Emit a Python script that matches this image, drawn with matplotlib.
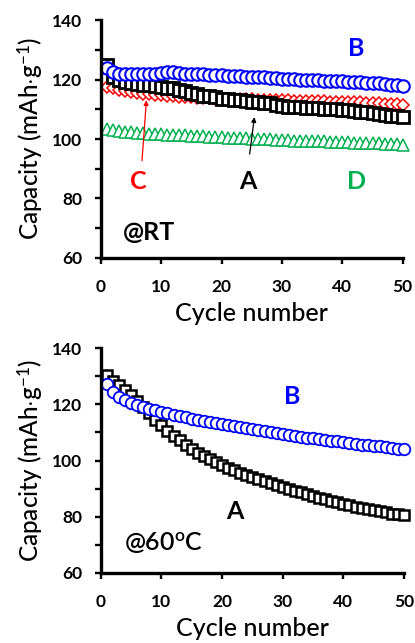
import numpy as np
import matplotlib
matplotlib.use('Agg')
import matplotlib.pyplot as plt

plt.rcParams['font.family'] = ['Lato', 'DejaVu Sans']
plt.rcParams['mathtext.fontset'] = 'custom'
plt.rcParams['mathtext.rm'] = 'Lato:medium'
plt.rcParams['mathtext.it'] = 'Lato:italic'
plt.rcParams['mathtext.bf'] = 'Lato:bold'

## the data
cycles = np.arange(1, 51)

# room temperature
rt_a = [125.0, 121.0, 119.8, 119.2, 118.8, 118.5, 118.3, 118.0, 117.8, 117.5,
        117.3, 117.0, 116.5, 116.0, 115.5, 115.0, 114.6, 114.3, 114.0, 113.6,
        113.4, 113.2, 113.0, 112.8, 112.6, 112.4, 112.2, 112.0, 111.6, 111.2,
        110.9, 110.7, 110.6, 110.5, 110.4, 110.3, 110.2, 110.1, 110.0, 109.8,
        109.6, 109.4, 109.2, 109.0, 108.7, 108.4, 108.1, 107.8, 107.6, 107.5]
rt_b = [124.0, 122.6, 122.0, 121.8, 121.7, 121.7, 121.7, 121.8, 122.0, 122.2,
        122.5, 122.4, 122.2, 122.0, 121.9, 121.8, 121.7, 121.6, 121.5, 121.4,
        121.3, 121.2, 121.1, 121.0, 120.9, 120.8, 120.7, 120.6, 120.5, 120.3,
        120.2, 120.1, 120.0, 119.9, 119.8, 119.7, 119.6, 119.6, 119.5, 119.4,
        119.3, 119.2, 119.1, 119.0, 118.9, 118.7, 118.5, 118.3, 118.0, 117.8]
rt_c = [117.5, 117.0, 116.6, 116.2, 115.9, 115.6, 115.3, 115.1, 114.9, 114.7,
        114.5, 114.3, 114.2, 114.1, 114.0, 113.9, 113.8, 113.7, 113.6, 113.5,
        113.5, 113.4, 113.4, 113.3, 113.3, 113.2, 113.2, 113.1, 113.1, 113.0,
        113.0, 112.9, 112.9, 112.8, 112.8, 112.7, 112.7, 112.6, 112.6, 112.5,
        112.4, 112.4, 112.3, 112.2, 112.1, 112.0, 111.9, 111.8, 111.7, 111.5]
rt_d = [103.3, 102.9, 102.7, 102.5, 102.3, 102.1, 102.0, 101.8, 101.7, 101.6,
        101.5, 101.4, 101.3, 101.2, 101.1, 101.0, 100.9, 100.8, 100.7, 100.6,
        100.5, 100.4, 100.3, 100.2, 100.1, 100.0, 99.9, 99.9, 99.8, 99.7,
        99.6, 99.5, 99.5, 99.4, 99.3, 99.2, 99.2, 99.1, 99.0, 99.0,
        98.9, 98.8, 98.7, 98.7, 98.6, 98.5, 98.4, 98.3, 98.2, 98.1]

# 60 oC
ht_a = [130.5, 128.5, 127.0, 125.3, 123.3, 121.3, 119.0, 116.8, 114.6, 112.6,
        110.7, 108.9, 107.2, 105.6, 104.1, 102.8, 101.6, 100.4, 99.3, 98.3,
        97.4, 96.5, 95.7, 94.9, 94.2, 93.4, 92.7, 92.0, 91.3, 90.7,
        90.0, 89.3, 88.7, 88.0, 87.4, 86.8, 86.2, 85.6, 85.1, 84.6,
        84.1, 83.6, 83.1, 82.7, 82.3, 81.9, 81.5, 81.1, 80.8, 80.5]
ht_b = [127.3, 124.3, 122.6, 121.5, 120.6, 119.8, 119.1, 118.5, 117.9, 117.4,
        116.9, 116.4, 115.9, 115.4, 114.9, 114.5, 114.1, 113.7, 113.3, 112.9,
        112.5, 112.2, 111.8, 111.5, 111.1, 110.8, 110.4, 110.1, 109.8, 109.4,
        109.1, 108.8, 108.5, 108.2, 107.9, 107.6, 107.3, 107.0, 106.8, 106.5,
        106.2, 106.0, 105.7, 105.5, 105.2, 105.0, 104.7, 104.5, 104.2, 104.0]

green = '#00b050'

fig = plt.figure(figsize=(4.15, 6.43), dpi=100)
ax1 = fig.add_axes([0.2427, 0.5988, 0.7277, 0.370])
ax2 = fig.add_axes([0.2427, 0.1093, 0.7310, 0.349])

## top panel
ax1.plot(cycles, rt_d, '^', ms=9, mfc='white', mec=green, mew=1.1, clip_on=False)
ax1.plot(cycles, rt_c, 'D', ms=6.5, mfc='white', mec='red', mew=1.1, clip_on=False)
ax1.plot(cycles, rt_a, 's', ms=8, mfc='white', mec='black', mew=2.0, clip_on=False)
ax1.plot(cycles, rt_b, 'o', ms=9, mfc='white', mec='blue', mew=1.5, clip_on=False)

ax1.text(42.3, 130.5, 'B', color='blue', fontsize=18, fontweight='bold', ha='center', va='center')
ax1.text(6.2, 85.8, 'C', color='red', fontsize=18, fontweight='bold', ha='center', va='center')
ax1.text(24.4, 85.8, 'A', color='black', fontsize=18, fontweight='bold', ha='center', va='center')
ax1.text(42.4, 85.8, 'D', color=green, fontsize=18, fontweight='bold', ha='center', va='center')
ax1.text(8.0, 68.4, '@RT', color='black', fontsize=18, fontweight='bold', ha='center', va='center')

ax1.annotate('', xy=(7.6, 114.0), xytext=(6.8, 91.8),
             arrowprops=dict(arrowstyle='-|>', color='red', lw=0.9, mutation_scale=7))
ax1.annotate('', xy=(25.5, 108.3), xytext=(24.6, 94.0),
             arrowprops=dict(arrowstyle='-|>', color='black', lw=0.9, mutation_scale=7))

## bottom panel
ax2.plot(cycles, ht_a, 's', ms=7.6, mfc='white', mec='black', mew=1.8, clip_on=False)
ax2.plot(cycles, ht_b, 'o', ms=8.3, mfc='white', mec='blue', mew=1.3, clip_on=False)

ax2.text(31.6, 122.8, 'B', color='blue', fontsize=18, fontweight='bold', ha='center', va='center')
ax2.text(22.1, 81.7, 'A', color='black', fontsize=18, fontweight='bold', ha='center', va='center')
ax2.text(10.3, 70.4, r'@60$^{\mathregular{o}}$C', color='black', fontsize=18,
         fontweight='semibold', ha='center', va='center')

##axes and labels
for ax in (ax1, ax2):
    ax.set_xlim(0, 50)
    ax.set_ylim(60, 140)
    ax.set_xticks([0, 10, 20, 30, 40, 50])
    ax.set_yticks([60, 80, 100, 120, 140])
    ax.set_yticks([70, 90, 110, 130], minor=True)
    ax.spines['top'].set_visible(False)
    ax.spines['right'].set_visible(False)
    ax.spines['left'].set_linewidth(2.4)
    ax.spines['bottom'].set_linewidth(2.4)
    ax.tick_params(which='both', direction='out', length=4.5, width=1.7)
    ax.tick_params(axis='x', pad=11)
    ax.tick_params(axis='y', pad=9)
    for tick in ax.get_xticklabels() + ax.get_yticklabels():
        tick.set_fontweight('bold')
        tick.set_fontsize(12.5)
    ax.set_xlabel('Cycle number', fontsize=18, fontweight='medium', labelpad=5)
    ax.set_ylabel(r'Capacity (mAh$\cdot$g$^{\mathregular{-1}}$)', fontsize=17.5,
                  fontweight='medium', labelpad=5)

fig.savefig('out.png', dpi=100)
